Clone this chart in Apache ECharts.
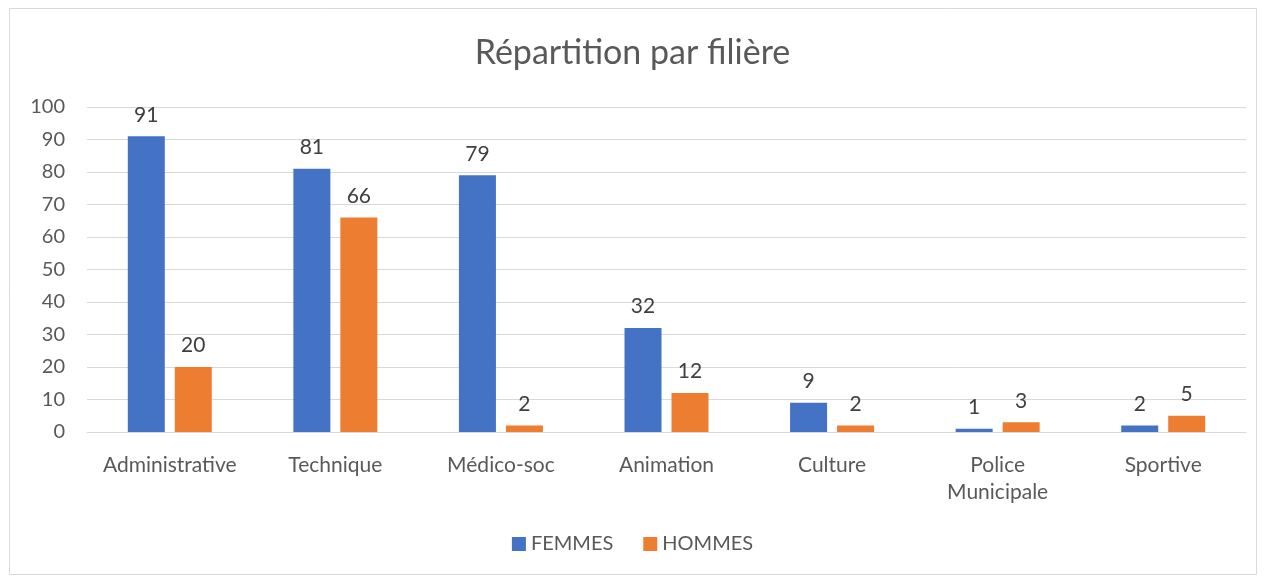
<!DOCTYPE html>
<html><head><meta charset="utf-8">
<script src="https://cdn.jsdelivr.net/npm/echarts@6/dist/echarts.min.js"></script>
<style>html,body{margin:0;padding:0;background:#fff}#c{width:1265px;height:577px}</style>
</head><body><div id="c"></div>
<script>
const categories = ['Administrative','Technique','Médico-soc','Animation','Culture','Police\nMunicipale','Sportive'];
const femmes = [91,81,79,32,9,1,2];
const hommes = [20,66,2,12,2,3,5];
const seriesNames = ['FEMMES','HOMMES'];
const title = 'Répartition par filière';
const FONT = 'Lato, "Open Sans", sans-serif';
const chart = echarts.init(document.getElementById('c'), null, {renderer:'canvas'});
const lbl = {show:true, position:'top', distance:11, color:'#404040', fontSize:21, fontFamily:FONT};
chart.setOption({
  animation:false,
  textStyle:{fontFamily:FONT},
  graphic:[{type:'rect', shape:{x:9.5,y:8.5,width:1247,height:566}, style:{fill:'none',stroke:'#d9d9d9',lineWidth:1}, silent:true}],
  title:{text:title, left:'center', top:31, textStyle:{fontSize:34, fontWeight:'normal', color:'#595959', fontFamily:FONT}},
  legend:{data:seriesNames, bottom:18, left:'center', itemWidth:14, itemHeight:14, itemGap:30, icon:'rect',
    textStyle:{fontSize:20, color:'#595959', fontFamily:FONT}},
  grid:{left:87, right:19, top:107, bottom:145, containLabel:false},
  xAxis:{type:'category', data:categories,
    axisLine:{lineStyle:{color:'#d9d9d9', width:1}}, axisTick:{show:false},
    axisLabel:{fontSize:21, color:'#595959', margin:20, lineHeight:27, fontFamily:FONT, interval:0}},
  yAxis:{type:'value', min:0, max:100, interval:10,
    splitLine:{lineStyle:{color:'#d9d9d9', width:1}}, axisLine:{show:false}, axisTick:{show:false},
    axisLabel:{fontSize:20, color:'#595959', margin:22, fontFamily:FONT}},
  series:[
    {name:seriesNames[0], type:'bar', data:femmes, barWidth:37, barGap:'27%', itemStyle:{color:'#4472c4'}, label:lbl},
    {name:seriesNames[1], type:'bar', data:hommes, barWidth:37, itemStyle:{color:'#ed7d31'}, label:lbl}
  ]
});
</script></body></html>
